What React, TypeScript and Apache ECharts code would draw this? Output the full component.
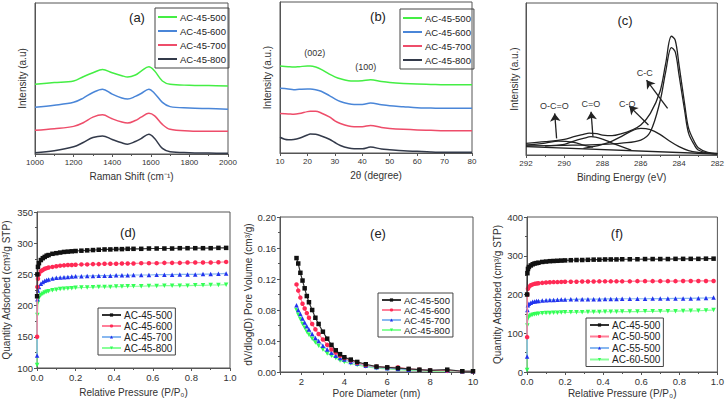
import React, { useEffect, useRef } from "react";
import * as echarts from "echarts";

const FONT = "Liberation Sans, Arial, sans-serif";

// (a) Raman
const ramanX = [1000, 1100, 1200, 1250, 1300, 1350, 1400, 1450, 1480, 1520, 1550, 1590, 1620, 1660, 1700, 1800, 1900, 2000];
const raman500 = [212, 217, 222, 235, 247, 257, 247, 238, 234, 240, 252, 265, 252, 222, 212, 209, 208, 207];
const raman600 = [142, 148, 157, 170, 187, 197, 182, 170, 167, 175, 184, 197, 184, 157, 144, 140, 138, 136];
const raman700 = [72, 77, 84, 95, 112, 119, 107, 97, 94, 102, 112, 124, 116, 90, 75, 70, 69, 69];
const raman800 = [4, 10, 22, 35, 50, 55, 44, 34, 30, 38, 47, 60, 47, 17, 7, 4, 3, 2];

// (b) XRD
const xrdX = [10, 13, 15, 17, 20, 21, 23, 25, 28, 30, 32, 35, 37, 40, 43, 47, 50, 55, 60, 65, 70, 80];
const xrd500 = [265, 263, 262, 263, 265, 265, 262, 255, 240, 232, 226, 220, 219, 220, 223, 218, 215, 212, 210, 209, 208, 208];
const xrd600 = [197, 195, 193, 194, 195, 195, 193, 188, 175, 165, 157, 150, 148, 148, 152, 147, 144, 141, 138, 137, 136, 136];
const xrd700 = [120, 119, 118, 120, 126, 127, 127, 122, 110, 98, 90, 82, 80, 80, 84, 78, 75, 72, 70, 69, 68, 68];
const xrd800 = [48, 40, 41, 45, 55, 58, 57, 52, 42, 32, 23, 15, 13, 13, 18, 12, 10, 7, 5, 3, 2, 2];

// (c) XPS C1s
const envX = [292, 291, 290, 289.5, 289, 288.7, 288.3, 288, 287.5, 287, 286.5, 286, 285.5, 285, 284.7, 284.4, 284.2, 284, 283.7, 283.5, 283.2, 283, 282.5, 282];
const envY = [35, 40, 47, 55, 62, 66, 64, 60, 58, 64, 74, 90, 125, 190, 275, 357, 345, 270, 150, 80, 40, 22, 8, 5];
const ccX = [292, 290, 288, 287, 286, 285.5, 285, 284.7, 284.4, 284.2, 284, 283.7, 283.5, 283.2, 283, 282.5, 282];
const ccY = [27, 29, 32, 36, 45, 70, 160, 250, 323, 310, 240, 130, 65, 30, 15, 6, 3];
const coX = [289, 288.5, 288, 287.5, 287, 286.5, 286, 285.5, 285, 284.5, 284, 283.5, 283, 282];
const coY = [20, 25, 32, 42, 56, 72, 80, 76, 62, 42, 25, 13, 8, 4];
const c2oX = [291, 290, 289.5, 289, 288.6, 288, 287.5, 287, 286.5];
const c2oY = [27, 32, 42, 50, 55, 48, 36, 25, 15];
const occX = [292, 291, 290.3, 289.5, 289, 288.5];
const occY = [30, 36, 42, 38, 30, 24];
const baseX = [292, 282];
const baseY = [25, 3];
const xpsLabels = ["O-C=O", "C=O", "C-O", "C-C"];
const xpsTails = [[290.4, 50], [288.5, 55], [285.6, 90], [284.6, 140]];
const xpsHeads = [[290.5, 125], [288.6, 130], [286.6, 147], [285.7, 225]];

// (d) N2 isotherms, temperature
const isoX = [0.0005, 0.002, 0.005, 0.01, 0.02, 0.03, 0.04, 0.05, 0.06, 0.08, 0.1, 0.12, 0.14, 0.16, 0.18, 0.2, 0.23, 0.26, 0.29, 0.32, 0.35, 0.38, 0.41, 0.44, 0.47, 0.5, 0.54, 0.58, 0.62, 0.66, 0.7, 0.74, 0.78, 0.82, 0.86, 0.9, 0.94, 0.98];
const d500 = [215, 250, 262, 268, 273, 276, 278, 280, 281, 283, 284, 285, 286, 286.5, 287, 287.5, 288, 288.5, 289, 289.5, 290, 290, 290.5, 290.5, 291, 291, 291, 291.5, 291.5, 291.5, 291.5, 292, 292, 292, 292, 292, 292.5, 292.5];
const d600 = [150, 230, 243, 250, 255, 257, 259, 260, 261, 262, 263, 264, 264.5, 265, 265, 265.5, 266, 266, 266.5, 266.5, 267, 267, 267, 267.5, 267.5, 267.5, 268, 268, 268, 268.5, 268.5, 268.5, 269, 269, 269, 269, 269.5, 270];
const d700 = [120, 210, 224, 230, 235, 238, 240, 241, 242, 243.5, 244.5, 245, 245.5, 246, 246.5, 247, 247, 247.5, 247.5, 248, 248, 248, 248.5, 248.5, 248.5, 249, 249, 249, 249.5, 249.5, 249.5, 250, 250, 250, 250.5, 250.5, 251, 251.5];
const d800 = [105, 185, 205, 212, 217, 219, 221, 222, 223, 224.5, 225.5, 226.5, 227, 227.5, 228, 228.5, 229, 229, 229.5, 230, 230, 230, 230.5, 230.5, 231, 231, 231, 231.5, 231.5, 232, 232, 232, 232, 232.5, 232.5, 233, 233, 233.5];

// (e) pore size distribution
const poreX = [1.77, 1.85, 1.95, 2.05, 2.15, 2.25, 2.35, 2.5, 2.65, 2.8, 3.0, 3.2, 3.4, 3.6, 3.8, 4.0, 4.3, 4.6, 5.0, 5.5, 6.0, 6.5, 7.0, 7.5, 8.0, 8.8, 9.5, 10];
const e500 = [0.147, 0.14, 0.128, 0.118, 0.108, 0.098, 0.09, 0.08, 0.07, 0.062, 0.052, 0.043, 0.035, 0.028, 0.023, 0.019, 0.016, 0.013, 0.01, 0.007, 0.006, 0.005, 0.004, 0.003, 0.002, 0.003, 0.001, 0.001];
const e600 = [0.113, 0.105, 0.096, 0.088, 0.082, 0.076, 0.07, 0.062, 0.055, 0.049, 0.042, 0.035, 0.029, 0.025, 0.021, 0.018, 0.015, 0.012, 0.009, 0.007, 0.006, 0.006, 0.004, 0.003, 0.002, 0.002, 0.001, 0.001];
const e700 = [0.086, 0.08, 0.075, 0.069, 0.064, 0.059, 0.055, 0.049, 0.044, 0.04, 0.034, 0.029, 0.025, 0.021, 0.018, 0.016, 0.013, 0.011, 0.008, 0.006, 0.005, 0.004, 0.003, 0.003, 0.002, 0.002, 0.001, 0.001];
const e800 = [0.08, 0.074, 0.068, 0.062, 0.057, 0.052, 0.048, 0.043, 0.038, 0.034, 0.029, 0.024, 0.021, 0.018, 0.015, 0.013, 0.011, 0.009, 0.007, 0.005, 0.004, 0.003, 0.002, 0.002, 0.001, 0.001, 0.001, 0.001];

// (f) N2 isotherms, ratio
const f45 = [200, 255, 266, 271, 275, 278, 280, 281, 282, 284, 285, 286, 286.5, 287, 287.5, 288, 288.5, 289, 289, 289.5, 290, 290, 290.5, 290.5, 290.5, 291, 291, 291, 291.5, 291.5, 291.5, 291.5, 292, 292, 292, 292, 292.5, 292.5];
const f50 = [90, 200, 215, 220, 224, 226, 227.5, 228.5, 229, 230, 231, 231.5, 232, 232, 232.5, 233, 233, 233, 233.5, 233.5, 233.5, 234, 234, 234, 234, 234, 234, 234.5, 234.5, 234.5, 234.5, 234.5, 234.5, 235, 235, 235, 235, 235];
const f55 = [40, 160, 172, 176, 179, 181, 182, 183, 183.5, 184.5, 185, 186, 186, 186.5, 187, 187, 187.5, 187.5, 188, 188, 188, 188, 188.5, 188.5, 188.5, 189, 189, 189, 189, 189.5, 189.5, 189.5, 190, 190, 190, 190.5, 191, 192];
const f60 = [5, 120, 138, 143, 146, 148, 149, 150, 150.5, 151.5, 152, 152.5, 153, 153, 153.5, 154, 154, 154.5, 154.5, 155, 155, 155, 155.5, 155.5, 155.5, 156, 156, 156, 156.5, 156.5, 157, 157, 157, 157.5, 158, 158, 159, 160];

const tempNames = ["AC-45-500", "AC-45-600", "AC-45-700", "AC-45-800"];
const ratioNames = ["AC-45-500", "AC-50-500", "AC-55-500", "AC-60-500"];

const lineColors = ["#44ee44", "#4a86d8", "#ee4d6a", "#333a4a"];
const markColors = ["#111111", "#ff2a55", "#2233ee", "#33ff55"];
const markLineColors = ["#333333", "#ff7f99", "#88b8f0", "#88ff99"];
const markSymbols = ["rect", "circle", "triangle", "triangle"];
const markRotate = [0, 0, 0, 180];

const pair = (xs: number[], ys: number[]) => xs.map((x, i) => [x, ys[i]]);

const grids = [
  { left: 35, top: 3, width: 193, height: 151 },
  { left: 280, top: 2, width: 192, height: 151 },
  { left: 526, top: 3, width: 192, height: 152 },
  { left: 37, top: 212, width: 193, height: 156 },
  { left: 280, top: 217, width: 193, height: 155 },
  { left: 527, top: 217, width: 191, height: 155 },
];

const axisColor = "#555";
const baseAxis = (gi: number, fs: number) => ({
  gridIndex: gi,
  type: "value",
  axisLine: { show: true, onZero: false, lineStyle: { color: axisColor, width: 1 } },
  splitLine: { show: false },
  axisTick: { show: true, inside: false, length: 3, lineStyle: { color: axisColor } },
  minorTick: { show: true, splitNumber: 2, length: 2, lineStyle: { color: axisColor } },
  axisLabel: { fontSize: fs, color: "#333", fontFamily: FONT, margin: 4, formatter: (v: number) => String(v) },
  nameLocation: "middle",
  nameTextStyle: { fontSize: 10, color: "#333", fontFamily: FONT },
});

export default function App() {
  const ref = useRef<HTMLDivElement>(null);
  useEffect(() => {
    if (!ref.current) return;
    const chart = echarts.init(ref.current, undefined, { renderer: "svg" });

    const xAxis: any[] = [
      { ...baseAxis(0, 8), min: 1000, max: 2000, interval: 200, name: "Raman Shift (cm⁻¹)", nameGap: 17 },
      { ...baseAxis(1, 8), min: 10, max: 80, interval: 10, name: "2θ (degree)", nameGap: 17, minorTick: { show: false } },
      { ...baseAxis(2, 8), min: 282, max: 292, interval: 2, inverse: true, name: "Binding Energy (eV)", nameGap: 17 },
      { ...baseAxis(3, 9.5), min: 0, max: 1, interval: 0.2, name: "Relative Pressure (P/P₀)", nameGap: 19, axisLabel: { ...baseAxis(3, 9.5).axisLabel, formatter: (v: number) => v.toFixed(1) } },
      { ...baseAxis(4, 9.5), min: 1, max: 10, interval: 1, name: "Pore Diameter (nm)", nameGap: 16, minorTick: { show: false }, axisLabel: { ...baseAxis(4, 9.5).axisLabel, formatter: (v: number) => (v % 2 === 0 ? String(v) : "") } },
      { ...baseAxis(5, 9.5), min: 0, max: 1, interval: 0.2, name: "Relative Pressure (P/P₀)", nameGap: 16, axisLabel: { ...baseAxis(5, 9.5).axisLabel, formatter: (v: number) => v.toFixed(1) } },
    ];
    const hiddenY = (gi: number, max: number, name: string, gap: number) => ({
      ...baseAxis(gi, 8), min: 0, max, name, nameGap: gap,
      axisLabel: { show: false }, axisTick: { show: false }, minorTick: { show: false },
    });
    const yAxis: any[] = [
      hiddenY(0, 459, "Intensity (a.u)", 8),
      hiddenY(1, 460, "Intensity (a.u.)", 8),
      hiddenY(2, 457, "Intensity (a.u.)", 7),
      { ...baseAxis(3, 9.5), min: 100, max: 350, interval: 50, name: "Quantity Adsorbed (cm³/g STP)", nameGap: 26 },
      { ...baseAxis(4, 9.5), min: 0, max: 0.2, interval: 0.04, name: "dV/dlog(D) Pore Volume (cm³/g)", nameGap: 26, axisLabel: { ...baseAxis(4, 9.5).axisLabel, formatter: (v: number) => v.toFixed(2) } },
      { ...baseAxis(5, 9.5), min: 0, max: 400, interval: 100, name: "Quantity Adsorbed (cm³/g STP)", nameGap: 25 },
    ];

    const series: any[] = [];
    const lineSeries = (panel: string, gi: number, names: string[], xs: number[], ys: number[][]) => {
      ys.forEach((arr, i) => {
        series.push({
          name: panel + "|" + names[i],
          type: "line",
          xAxisIndex: gi,
          yAxisIndex: gi,
          data: pair(xs, arr),
          symbol: "none",
          smooth: 0.35,
          lineStyle: { color: lineColors[i], width: 1.5 },
          itemStyle: { color: lineColors[i] },
        });
      });
    };
    lineSeries("a", 0, tempNames, ramanX, [raman500, raman600, raman700, raman800]);
    lineSeries("b", 1, tempNames, xrdX, [xrd500, xrd600, xrd700, xrd800]);

    const xpsComp = [
      [envX, envY],
      [ccX, ccY],
      [coX, coY],
      [c2oX, c2oY],
      [occX, occY],
      [baseX, baseY],
    ];
    xpsComp.forEach(([xs, ys], i) => {
      series.push({
        name: "c|" + i,
        type: "line",
        xAxisIndex: 2,
        yAxisIndex: 2,
        data: pair(xs, ys),
        symbol: "none",
        smooth: 0.35,
        lineStyle: { color: "#222", width: 1.3 },
        markLine: i === 5 ? {
          silent: true,
          symbol: ["none", "arrow"],
          symbolSize: 8,
          lineStyle: { color: "#222", width: 1.3, type: "solid" },
          label: { show: true, position: "end", formatter: (p: any) => p.name, fontSize: 9, color: "#333", fontFamily: FONT, distance: 3 },
          data: xpsLabels.map((lab, k) => [
            { coord: xpsTails[k], name: lab },
            { coord: xpsHeads[k], name: lab },
          ]),
        } : undefined,
      });
    });

    // (b) peak labels
    series.push({
      name: "b|peaks",
      type: "scatter",
      xAxisIndex: 1,
      yAxisIndex: 1,
      data: [],
      markPoint: {
        silent: true,
        symbol: "circle",
        symbolSize: 0,
        label: { show: true, position: "inside", formatter: "{b}", fontSize: 9, color: "#333", fontFamily: FONT },
        data: [
          { name: "(002)", coord: [22.7, 305] },
          { name: "(100)", coord: [41.3, 263] },
        ],
      },
    });

    const markSeries = (panel: string, gi: number, names: string[], xs: number[], ys: number[][]) => {
      ys.forEach((arr, i) => {
        series.push({
          name: panel + "|" + names[i],
          type: "line",
          xAxisIndex: gi,
          yAxisIndex: gi,
          data: pair(xs, arr),
          symbol: markSymbols[i],
          symbolRotate: markRotate[i],
          symbolSize: 4.5,
          showAllSymbol: true,
          lineStyle: { color: markLineColors[i], width: 1.2 },
          itemStyle: { color: markColors[i] },
          z: 10 - i,
        });
      });
    };
    markSeries("d", 3, tempNames, isoX, [d500, d600, d700, d800]);
    markSeries("e", 4, tempNames, poreX, [e500, e600, e700, e800]);
    markSeries("f", 5, ratioNames, isoX, [f45, f50, f55, f60]);

    const legend = (panel: string, names: string[], left: number, top: number, fs: number, gap: number, lineOnly: boolean) => ({
      orient: "vertical",
      left,
      top,
      data: names.map((n) => (lineOnly ? { name: panel + "|" + n, icon: "rect" } : panel + "|" + n)),
      formatter: (n: string) => n.split("|")[1],
      itemWidth: 19,
      itemHeight: lineOnly ? 2 : 4,
      itemGap: lineOnly ? gap + 4 : gap,
      padding: lineOnly ? [4, 3, 4, 3] : [2, 3, 2, 3],
      borderColor: "#444",
      borderWidth: 1,
      borderRadius: 0,
      selectedMode: false,
      textStyle: { fontSize: fs, color: "#222", fontFamily: FONT, padding: [0, 0, 0, -2] },
    });

    const panelLabel = (t: string, x: number, y: number) => ({
      type: "text",
      x,
      y,
      style: { text: t, fontSize: 13, fontFamily: FONT, fill: "#222", align: "center", verticalAlign: "middle", textAlign: "center", textVerticalAlign: "middle" },
    });

    chart.setOption({
      animation: false,
      backgroundColor: "#fff",
      grid: grids.map((g) => ({ ...g, show: true, borderColor: axisColor, borderWidth: 1, backgroundColor: "transparent", containLabel: false })),
      xAxis,
      yAxis,
      series,
      legend: [
        legend("a", tempNames, 155, 8, 9.5, 0, true),
        legend("b", tempNames, 400, 9, 9.5, 0, true),
        legend("d", tempNames, 98, 308, 10, 1, false),
        legend("e", tempNames, 378, 293, 9.5, 0, false),
        legend("f", ratioNames, 586, 318, 10, 1.5, false),
      ],
      graphic: [
        panelLabel("(a)", 137, 17),
        panelLabel("(b)", 378, 16),
        panelLabel("(c)", 625, 20),
        panelLabel("(d)", 128, 232),
        panelLabel("(e)", 378, 233),
        panelLabel("(f)", 617, 233),
      ],
    });
    return () => chart.dispose();
  }, []);
  return <div ref={ref} style={{ position: "fixed", left: 0, top: 0, width: 727, height: 402 }} />;
}
